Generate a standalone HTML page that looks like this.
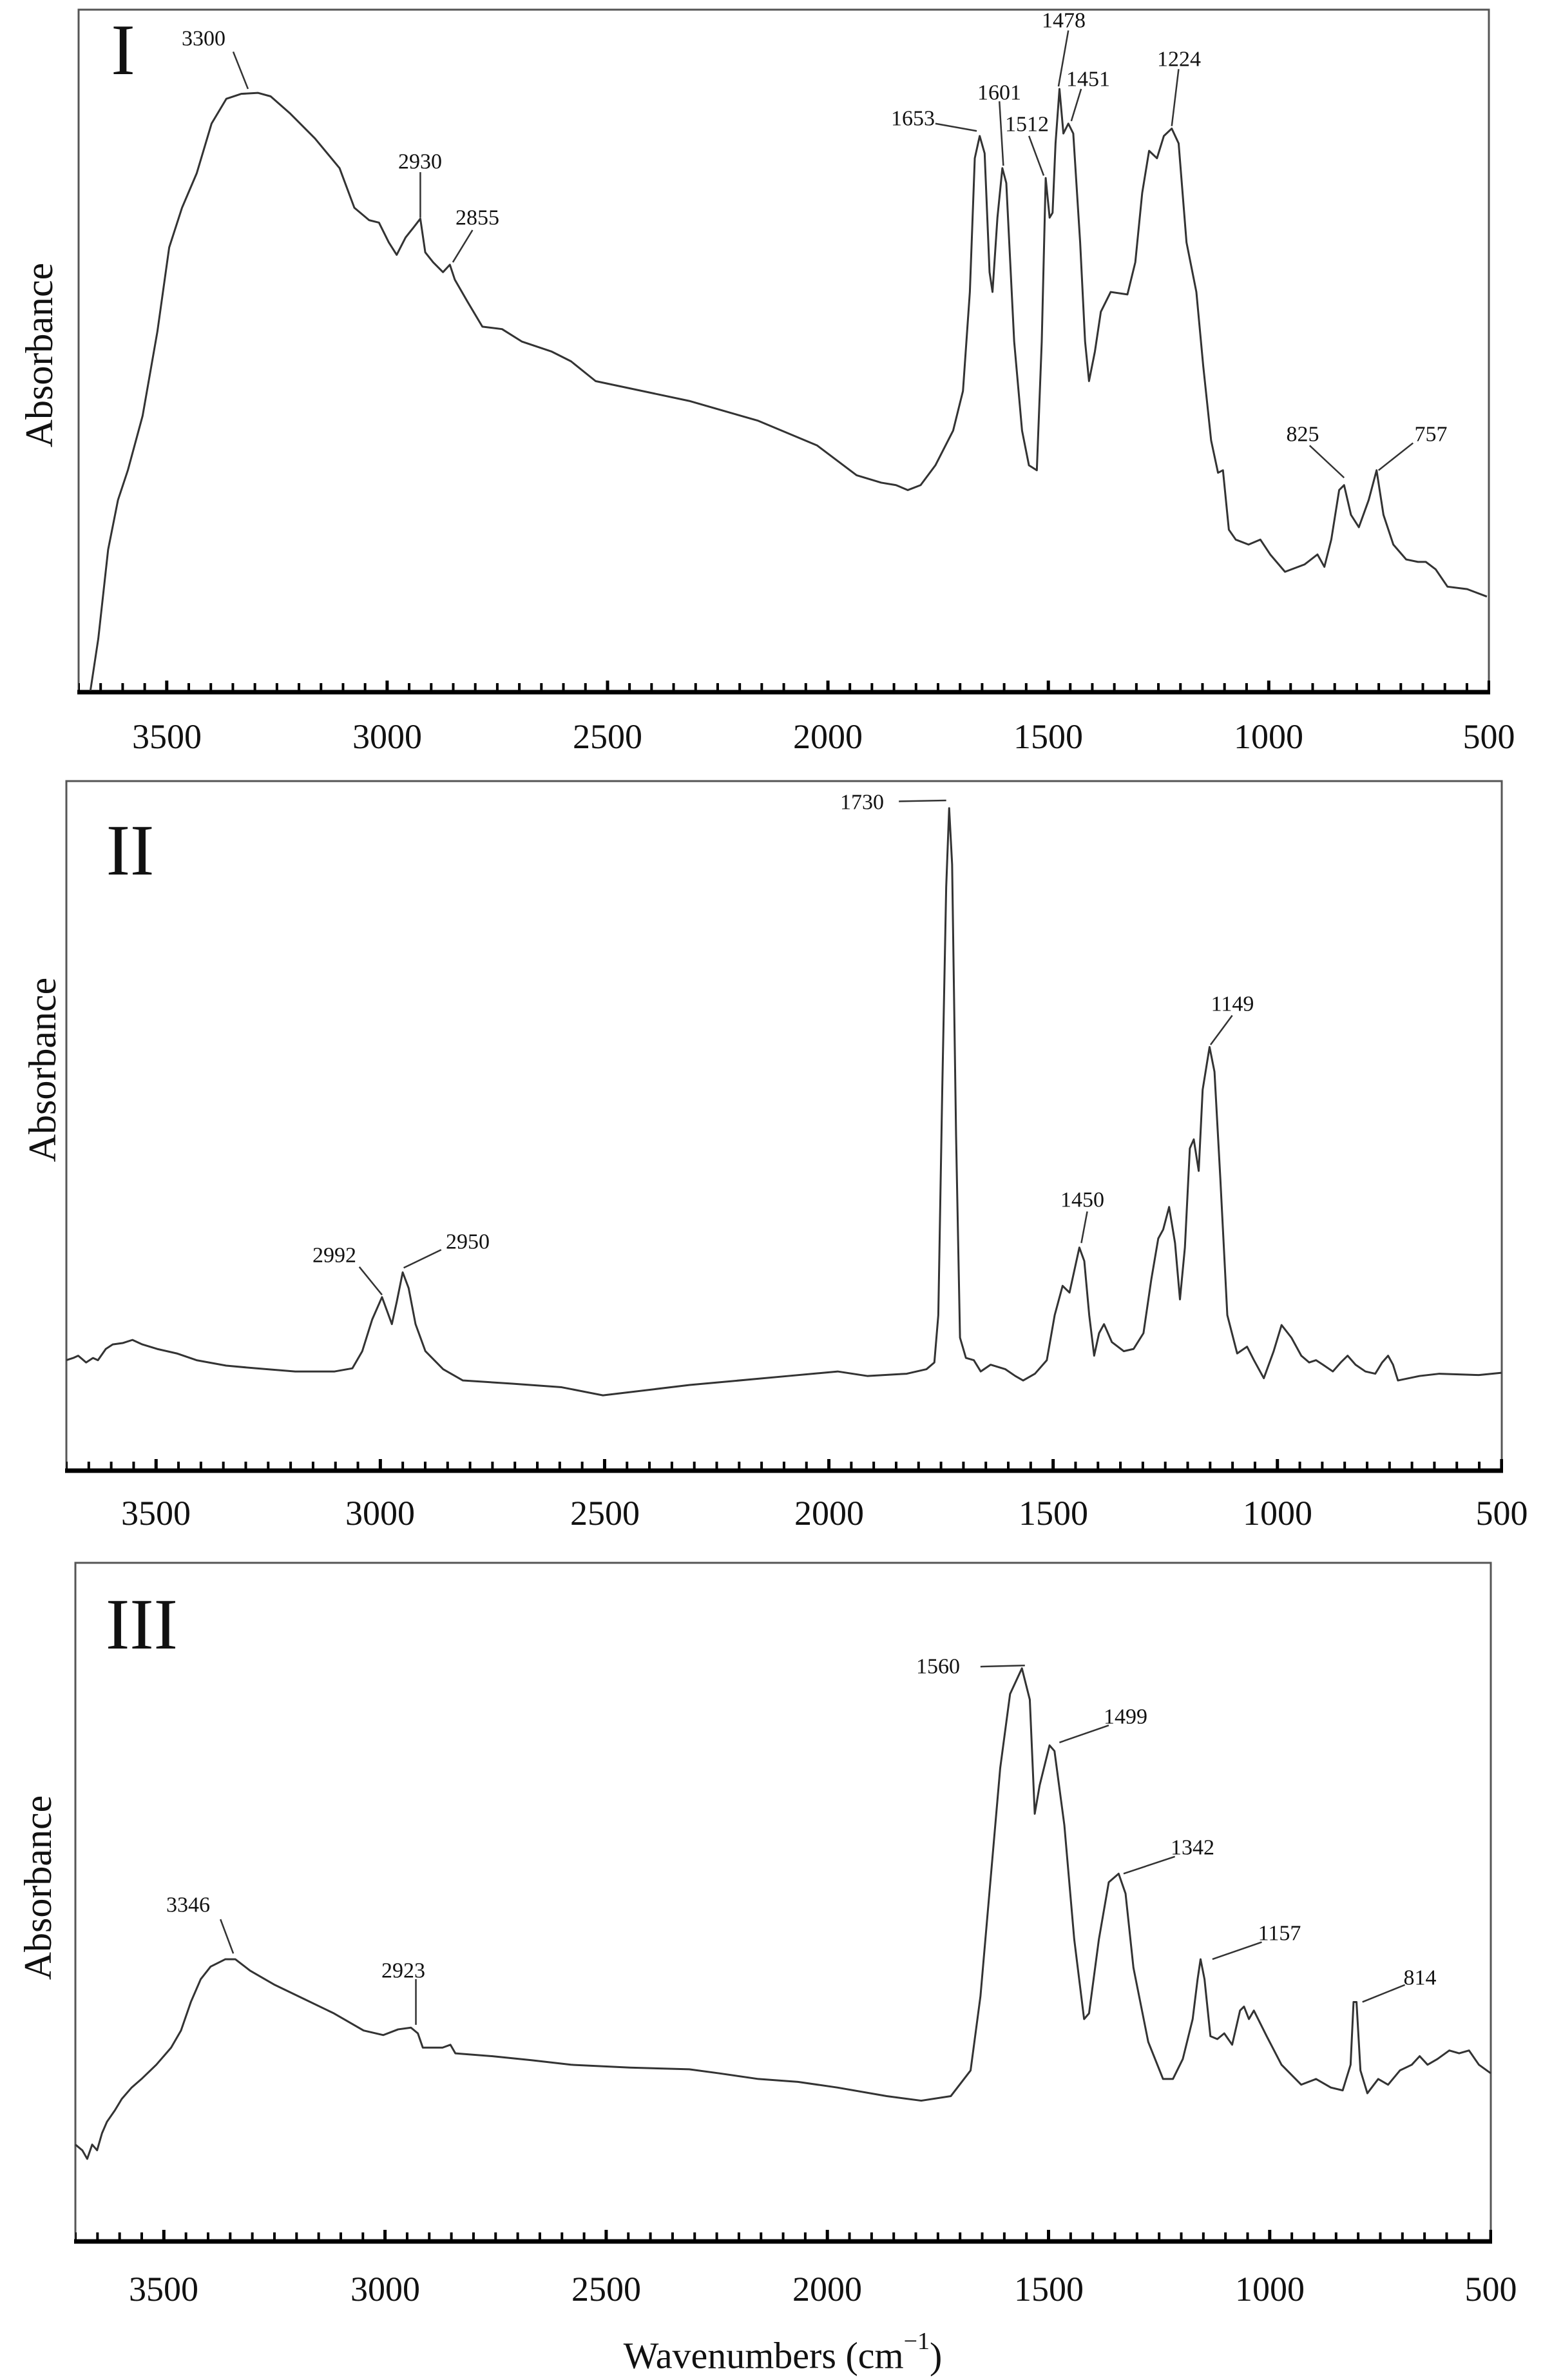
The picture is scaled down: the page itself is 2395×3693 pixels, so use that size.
<!DOCTYPE html>
<html><head><meta charset="utf-8"><style>
html,body{margin:0;padding:0;background:#fff;}
svg{display:block;}
text{font-family:"Liberation Serif",serif;fill:#111;}
.t{font-size:54px;text-anchor:middle;dominant-baseline:central;}
.a{font-size:34px;text-anchor:middle;dominant-baseline:central;}
.y{font-size:60px;text-anchor:middle;dominant-baseline:central;}
.p{font-size:112px;text-anchor:middle;}
.c{fill:none;stroke:#333;stroke-width:3;vector-effect:non-scaling-stroke;stroke-linejoin:round;}
.l{stroke:#333;stroke-width:2.5;vector-effect:non-scaling-stroke;}
</style></head><body>
<svg width="2395" height="3693" viewBox="0 0 2395 3693" xmlns="http://www.w3.org/2000/svg">
<!-- Panel I -->
<rect x="122" y="15" width="2189" height="1059" fill="none" stroke="#555" stroke-width="3"/>
<line x1="120" y1="1074" x2="2313" y2="1074" stroke="#000" stroke-width="7"/>
<line x1="122" y1="1066" x2="2313" y2="1066" stroke="#000" stroke-width="12" stroke-dasharray="4 30.205" stroke-dashoffset="2"/>
<line x1="122" y1="1064" x2="2313" y2="1064" stroke="#000" stroke-width="16" stroke-dasharray="5 337.1" stroke-dashoffset="-134.3"/>
<g class="t"><text x="259" y="1143">3500</text><text x="601" y="1143">3000</text><text x="943" y="1143">2500</text><text x="1285" y="1143">2000</text><text x="1627" y="1143">1500</text><text x="1969" y="1143">1000</text><text x="2311" y="1143">500</text></g>
<text class="p" x="191" y="115">I</text>
<text class="y" transform="translate(61 551) rotate(-90)">Absorbance</text>
<g transform="matrix(1.5286 0 0 0.7685 -0.29 -8.05)">
<polyline class="c" points="92,1405 100,1300 110,1120 120,1020 130,960 145,850 160,680 172,510 185,430 200,360 215,260 230,210 245,200 262,198 275,205 295,240 320,290 345,350 360,430 375,455 385,460 395,500 403,525 412,490 420,470 427,452 432,520 440,540 450,560 457,545 462,575 475,620 490,670 510,675 530,700 560,720 580,740 605,780 700,820 770,860 830,910 870,970 895,985 910,990 922,1000 935,990 950,950 968,880 978,800 985,600 990,330 995,285 1000,320 1005,560 1008,600 1013,450 1018,350 1022,380 1030,700 1038,880 1045,950 1053,960 1058,700 1062,370 1066,450 1069,440 1072,300 1076,190 1080,280 1085,260 1090,280 1097,500 1102,700 1106,780 1112,720 1118,640 1128,600 1145,605 1153,540 1160,400 1167,315 1175,330 1182,285 1190,270 1197,300 1205,500 1215,600 1222,750 1230,900 1237,965 1242,960 1248,1080 1255,1100 1268,1110 1280,1100 1290,1130 1305,1165 1325,1150 1338,1130 1345,1155 1352,1100 1360,1000 1365,990 1372,1050 1380,1075 1390,1020 1398,960 1405,1050 1415,1110 1428,1140 1440,1145 1448,1145 1458,1160 1470,1195 1490,1200 1510,1215"/>
<line class="l" x1="237" y1="115" x2="252" y2="190"/>
<line class="l" x1="427" y1="358" x2="427" y2="450"/>
<line class="l" x1="480" y1="475" x2="460" y2="540"/>
<line class="l" x1="950" y1="260" x2="992" y2="275"/>
<line class="l" x1="1015" y1="215" x2="1019" y2="345"/>
<line class="l" x1="1045" y1="285" x2="1060" y2="365"/>
<line class="l" x1="1085" y1="72" x2="1075" y2="185"/>
<line class="l" x1="1098" y1="190" x2="1088" y2="255"/>
<line class="l" x1="1197" y1="150" x2="1190" y2="265"/>
<line class="l" x1="1330" y1="910" x2="1365" y2="975"/>
<line class="l" x1="1435" y1="905" x2="1400" y2="960"/>
</g>
<g class="a"><text x="316" y="60">3300</text><text x="652" y="251">2930</text><text x="741" y="338">2855</text><text x="1417" y="184">1653</text><text x="1551" y="144">1601</text><text x="1594" y="193">1512</text><text x="1651" y="32">1478</text><text x="1689" y="123">1451</text><text x="1830" y="92">1224</text><text x="2022" y="674">825</text><text x="2221" y="674">757</text></g>

<!-- Panel II -->
<rect x="103" y="1212" width="2228" height="1070" fill="none" stroke="#555" stroke-width="3"/>
<line x1="101" y1="2282" x2="2333" y2="2282" stroke="#000" stroke-width="7"/>
<line x1="103" y1="2274" x2="2333" y2="2274" stroke="#000" stroke-width="12" stroke-dasharray="4 30.81" stroke-dashoffset="2"/>
<line x1="103" y1="2272" x2="2333" y2="2272" stroke="#000" stroke-width="16" stroke-dasharray="5 343.1" stroke-dashoffset="-136.75"/>
<g class="t"><text x="242" y="2348">3500</text><text x="590" y="2348">3000</text><text x="939" y="2348">2500</text><text x="1287" y="2348">2000</text><text x="1635" y="2348">1500</text><text x="1983" y="2348">1000</text><text x="2331" y="2348">500</text></g>
<text class="p" x="202" y="1357">II</text>
<text class="y" transform="translate(66 1660) rotate(-90)">Absorbance</text>
<g transform="matrix(1.531 0 0 0.6993 -1.1 1201.5)">
<polyline class="c" points="68,1300 75,1295 80,1290 88,1305 95,1295 100,1300 108,1275 115,1265 125,1262 135,1255 145,1265 160,1275 180,1285 200,1300 230,1312 260,1318 300,1325 340,1325 358,1318 368,1280 378,1210 388,1160 393,1190 398,1220 403,1170 409,1105 415,1140 422,1220 432,1280 450,1320 470,1345 520,1352 570,1360 612,1378 700,1355 800,1335 850,1325 880,1335 920,1330 940,1320 948,1305 952,1200 956,700 960,250 963,75 966,200 970,800 974,1250 980,1295 988,1300 995,1325 1005,1310 1020,1320 1030,1335 1038,1345 1050,1330 1062,1300 1070,1200 1078,1135 1085,1150 1095,1050 1100,1080 1105,1200 1110,1290 1115,1240 1120,1220 1128,1260 1140,1280 1150,1275 1160,1240 1168,1120 1175,1030 1180,1010 1186,960 1192,1040 1197,1165 1202,1050 1207,830 1211,810 1216,880 1220,700 1227,605 1232,660 1238,900 1245,1200 1255,1285 1265,1270 1272,1300 1282,1340 1292,1280 1300,1222 1310,1250 1320,1290 1328,1305 1335,1300 1342,1310 1352,1325 1360,1305 1367,1290 1375,1310 1385,1325 1395,1330 1402,1305 1408,1290 1413,1310 1418,1345 1440,1335 1460,1330 1500,1333 1523,1328"/>
<line class="l" x1="912" y1="60" x2="960" y2="58"/>
<line class="l" x1="365" y1="1093" x2="388" y2="1155"/>
<line class="l" x1="448" y1="1055" x2="410" y2="1095"/>
<line class="l" x1="1103" y1="970" x2="1097" y2="1040"/>
<line class="l" x1="1250" y1="535" x2="1228" y2="600"/>
</g>
<g class="a"><text x="1338" y="1245">1730</text><text x="519" y="1948">2992</text><text x="726" y="1927">2950</text><text x="1680" y="1862">1450</text><text x="1913" y="1558">1149</text></g>

<!-- Panel III -->
<rect x="117" y="2425" width="2197" height="1053" fill="none" stroke="#555" stroke-width="3"/>
<line x1="115" y1="3478" x2="2316" y2="3478" stroke="#000" stroke-width="7"/>
<line x1="117" y1="3470" x2="2316" y2="3470" stroke="#000" stroke-width="12" stroke-dasharray="4 30.33" stroke-dashoffset="2"/>
<line x1="117" y1="3468" x2="2316" y2="3468" stroke="#000" stroke-width="16" stroke-dasharray="5 338.3" stroke-dashoffset="-134.8"/>
<g class="t"><text x="254" y="3552">3500</text><text x="598" y="3552">3000</text><text x="941" y="3552">2500</text><text x="1284" y="3552">2000</text><text x="1628" y="3552">1500</text><text x="1971" y="3552">1000</text><text x="2314" y="3552">500</text></g>
<text class="p" x="220" y="2558">III</text>
<text class="y" transform="translate(59 2929) rotate(-90)">Absorbance</text>
<g transform="matrix(1.532 0 0 0.885 -2.5 2301.1)">
<polyline class="c" points="78,1160 85,1170 90,1185 95,1160 100,1170 105,1140 110,1120 118,1100 125,1080 135,1060 145,1045 160,1020 175,990 185,960 195,910 205,870 215,848 230,835 240,835 255,855 280,880 310,905 340,930 370,960 390,968 405,958 418,955 425,965 430,990 450,990 458,985 463,1000 500,1005 540,1012 580,1020 640,1025 700,1028 730,1035 770,1045 810,1050 850,1060 900,1075 935,1083 965,1075 985,1030 995,900 1005,700 1015,500 1025,370 1037,325 1045,380 1050,580 1055,530 1065,460 1070,470 1080,600 1090,800 1100,940 1105,930 1115,800 1125,700 1135,685 1142,720 1150,850 1165,980 1180,1045 1190,1045 1200,1010 1210,940 1215,870 1218,835 1222,870 1228,970 1235,975 1242,965 1250,985 1258,925 1262,918 1267,940 1272,925 1285,970 1300,1020 1320,1055 1335,1045 1350,1060 1362,1065 1370,1020 1373,910 1376,910 1380,1030 1387,1070 1398,1045 1408,1055 1420,1030 1432,1020 1440,1005 1448,1020 1458,1010 1470,995 1480,1000 1490,995 1500,1020 1512,1035"/>
<line class="l" x1="995" y1="322" x2="1040" y2="320"/>
<line class="l" x1="1075" y1="455" x2="1125" y2="425"/>
<line class="l" x1="1140" y1="685" x2="1192" y2="655"/>
<line class="l" x1="1230" y1="835" x2="1280" y2="805"/>
<line class="l" x1="1382" y1="910" x2="1425" y2="880"/>
<line class="l" x1="225" y1="765" x2="238" y2="825"/>
<line class="l" x1="423" y1="870" x2="423" y2="950"/>
</g>
<g class="a"><text x="1456" y="2586">1560</text><text x="1747" y="2664">1499</text><text x="1851" y="2867">1342</text><text x="1986" y="3000">1157</text><text x="2204" y="3069">814</text><text x="292" y="2956">3346</text><text x="626" y="3058">2923</text></g>
<text x="1215" y="3655" style="font-size:58px;text-anchor:middle;dominant-baseline:central;">Wavenumbers (cm<tspan dy="-22" style="font-size:38px;">−1</tspan><tspan dy="22">)</tspan></text>
</svg>
</body></html>
